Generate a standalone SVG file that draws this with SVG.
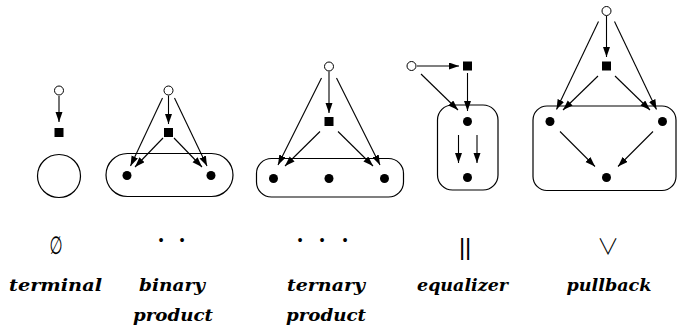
<svg xmlns="http://www.w3.org/2000/svg" width="678" height="333" viewBox="0 0 678 333">
<style>
.o{fill:#fff;stroke:#000;stroke-width:1}
.sq{fill:#000}
.d{fill:#000}
.box{fill:none;stroke:#000;stroke-width:1.2}
.e{stroke:#000;stroke-width:1.1;fill:none;marker-end:url(#ah)}
.lbl{font-family:"DejaVu Serif","Liberation Serif",serif;font-style:italic;font-weight:bold;font-size:17px;text-anchor:middle;fill:#000}
.sym{font-family:"DejaVu Sans","Liberation Sans",sans-serif;font-size:20px;text-anchor:middle;fill:#000}
.bar{font-family:"Liberation Sans",sans-serif;font-size:24px;text-anchor:middle;fill:#000}
.bul{font-family:"Liberation Serif",serif;font-size:16px;text-anchor:middle;fill:#000}
.vee{font-family:"Noto Sans CJK SC","DejaVu Sans",sans-serif;font-size:22px;font-weight:300;text-anchor:middle;fill:#000}
</style>
<defs>
<marker id="ah" markerUnits="userSpaceOnUse" markerWidth="10" markerHeight="8" refX="10" refY="3.5" orient="auto">
<path d="M0,0 L10,3.5 L0,7 z" fill="#000"/>
</marker>
</defs>
<rect width="678" height="333" fill="#fff"/>

<g id="terminal">
<circle class="o" cx="59" cy="90.5" r="4.5"/>
<rect class="sq" x="54.5" y="128" width="9" height="9"/>
<circle class="box" cx="59" cy="176" r="21.5"/>
</g>

<g id="binary">
<circle class="o" cx="168.5" cy="90.5" r="4.5"/>
<rect class="sq" x="164" y="128" width="9" height="9"/>
<rect class="box" x="106" y="153.5" width="127" height="43" rx="21.5"/>
<circle class="d" cx="127" cy="175.5" r="4.5"/>
<circle class="d" cx="211" cy="175.5" r="4.5"/>
</g>

<g id="ternary">
<circle class="o" cx="329" cy="66.5" r="4.5"/>
<rect class="sq" x="324.5" y="117" width="9" height="9"/>
<rect class="box" x="256.5" y="158.5" width="147" height="38.5" rx="15"/>
<circle class="d" cx="273.5" cy="178.5" r="4.5"/>
<circle class="d" cx="329" cy="178.5" r="4.5"/>
<circle class="d" cx="384.5" cy="178.5" r="4.5"/>
</g>

<g id="equalizer">
<circle class="o" cx="411.5" cy="66" r="4.5"/>
<rect class="sq" x="463" y="61.5" width="9" height="9"/>
<rect class="box" x="437.5" y="105" width="60.5" height="85" rx="15"/>
<circle class="d" cx="467.5" cy="121.5" r="4.5"/>
<circle class="d" cx="467.5" cy="177.5" r="4.5"/>
</g>

<g id="pullback">
<circle class="o" cx="606.5" cy="11" r="4.5"/>
<rect class="sq" x="602" y="61.5" width="9" height="9"/>
<rect class="box" x="533" y="106" width="143" height="84.5" rx="14"/>
<circle class="d" cx="550" cy="121.5" r="4.5"/>
<circle class="d" cx="662.5" cy="121.5" r="4.5"/>
<circle class="d" cx="606.5" cy="177.5" r="4.5"/>
</g>

<g id="connectors">
<line class="e" x1="59" y1="96" x2="59" y2="122"/>

<line class="e" x1="168.5" y1="95.5" x2="168.5" y2="124"/>
<line class="e" x1="162.5" y1="98" x2="130.5" y2="166"/>
<line class="e" x1="163" y1="138" x2="135" y2="167"/>
<line class="e" x1="174.5" y1="98" x2="207" y2="166"/>
<line class="e" x1="174" y1="138" x2="202" y2="167"/>

<line class="e" x1="329" y1="71.5" x2="329" y2="113"/>
<line class="e" x1="321.5" y1="78" x2="278" y2="165"/>
<line class="e" x1="320" y1="131.5" x2="285" y2="166"/>
<line class="e" x1="336.5" y1="78" x2="380" y2="165"/>
<line class="e" x1="338" y1="131.5" x2="373" y2="166"/>

<line class="e" x1="417" y1="66" x2="459" y2="66"/>
<line class="e" x1="421" y1="74" x2="458" y2="110"/>
<line class="e" x1="467.5" y1="73" x2="467.5" y2="111"/>
<line class="e" x1="458.5" y1="135" x2="458.5" y2="163"/>
<line class="e" x1="477" y1="135" x2="477" y2="163"/>

<line class="e" x1="606.5" y1="16" x2="606.5" y2="57"/>
<line class="e" x1="598.5" y1="21.5" x2="556.5" y2="109.5"/>
<line class="e" x1="598" y1="76" x2="563" y2="110"/>
<line class="e" x1="614.5" y1="21.5" x2="656.5" y2="109.5"/>
<line class="e" x1="615" y1="76" x2="650" y2="110"/>
<line class="e" x1="560" y1="131.5" x2="595" y2="166.5"/>
<line class="e" x1="653" y1="131.5" x2="618" y2="166.5"/>
</g>

<g id="labels">
<text class="sym" transform="translate(56 254) scale(0.75 1.25)" x="0" y="0">∅</text>
<text class="bul" x="161 171 182" y="246">• •</text>
<text class="bul" x="300 311 322 333 345" y="246">• • •</text>
<text class="bar" x="462 468" y="255">||</text>
<text class="vee" x="608" y="254">∨</text>

<text class="lbl" x="55.5" y="291" textLength="93" lengthAdjust="spacingAndGlyphs">terminal</text>
<text class="lbl" x="172" y="291" textLength="66" lengthAdjust="spacingAndGlyphs">binary</text>
<text class="lbl" x="173" y="321" textLength="80" lengthAdjust="spacingAndGlyphs">product</text>
<text class="lbl" x="326" y="291" textLength="78" lengthAdjust="spacingAndGlyphs">ternary</text>
<text class="lbl" x="326" y="321" textLength="80" lengthAdjust="spacingAndGlyphs">product</text>
<text class="lbl" x="462.5" y="291" textLength="91" lengthAdjust="spacingAndGlyphs">equalizer</text>
<text class="lbl" x="609" y="291" textLength="85" lengthAdjust="spacingAndGlyphs">pullback</text>
</g>
</svg>
